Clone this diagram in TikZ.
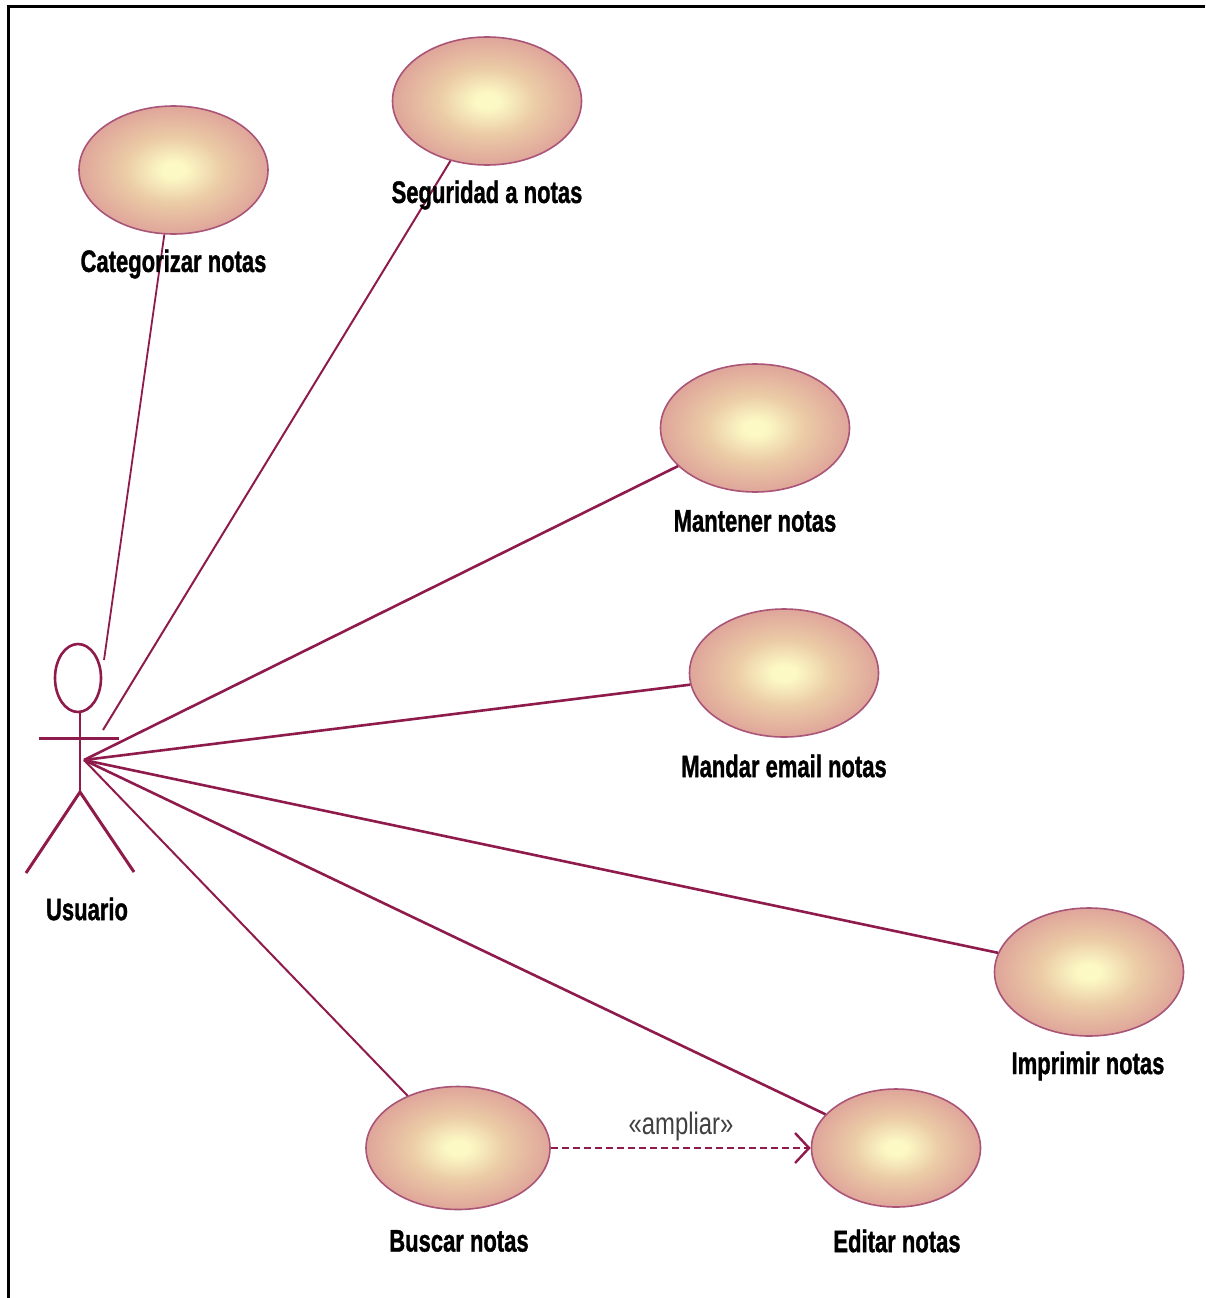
\documentclass[tikz,border=0pt]{standalone}
\usepackage{fontspec}
\setmainfont{Liberation Sans}[BoldFeatures={FakeBold=1.4}]
\usetikzlibrary{shapes.geometric,arrows.meta}
\definecolor{umlline}{HTML}{8E1B4B}
\definecolor{centrocaso}{HTML}{FCF9C4}
\definecolor{mediocaso}{HTML}{EBCBA6}
\definecolor{bordecaso}{HTML}{DFA59A}
\pgfdeclareradialshading{casouso}{\pgfpoint{0bp}{0bp}}{color(0bp)=(centrocaso); color(3bp)=(centrocaso); color(13bp)=(mediocaso); color(25bp)=(bordecaso); color(50bp)=(bordecaso)}
\tikzset{
    usecase/.style={ellipse, draw=umlline!75!white, line width=1.6pt, inner sep=0pt, shade, shading=casouso},
    etiqueta/.style={font=\fontsize{31}{34}\selectfont\bfseries, xscale=0.71, inner sep=0pt},
    relacion/.style={draw=umlline, line width=2.6pt}
}
\begin{document}
\begin{tikzpicture}[x=1pt, y=-1pt]
    \useasboundingbox (0,0) rectangle (1205,1298);

    % Marco
    \draw[line width=3pt] (8,1298) -- (8,7) -- (1205,7);

    % Casos de uso
    \node[usecase, minimum width=189pt, minimum height=128pt] (categorizar) at (173.5,170) {};
    \node[usecase, minimum width=189pt, minimum height=128pt] (seguridad) at (487,101) {};
    \node[usecase, minimum width=189pt, minimum height=128pt] (mantener) at (755,428) {};
    \node[usecase, minimum width=189pt, minimum height=128pt] (mandar) at (784,673) {};
    \node[usecase, minimum width=189pt, minimum height=128pt] (imprimir) at (1089,972) {};
    \node[usecase, minimum width=184pt, minimum height=123pt] (buscar) at (458,1148) {};
    \node[usecase, minimum width=169pt, minimum height=118pt] (editar) at (896,1148) {};

    % Actor
    \draw[relacion] (78,678) ellipse (23 and 34);
    \draw[relacion] (80,712) -- (80,792);
    \draw[relacion, line width=3pt] (39,738) -- (119,738);
    \draw[relacion, line width=3pt] (26,873) -- (80,792) -- (134,872);

    % Extremos libres de las relaciones
    \coordinate (cabeza) at (104,660);
    \coordinate (brazo) at (103,730);
    \coordinate (usuario) at (84,760);

    % Relaciones
    \draw[relacion, line width=1.8pt] (cabeza) -- (categorizar);
    \draw[relacion, line width=2pt] (brazo) -- (seguridad);
    \draw[relacion] (usuario) -- (mantener);
    \draw[relacion] (usuario) -- (mandar);
    \draw[relacion] (usuario) -- (imprimir);
    \draw[relacion] (usuario) -- (editar);
    \draw[relacion, line width=2pt] (usuario) -- (buscar);

    % Ampliar
    \draw[relacion, line width=2.4pt, dash pattern=on 7pt off 4pt, -{Straight Barb[length=14pt, width=30pt]}] (buscar) -- (editar);
    \node[font=\fontsize{31}{34}\selectfont, xscale=0.77, inner sep=0pt, text=black!75] (ampliar) at (681,1126) {«ampliar»};

    % Etiquetas
    \node[etiqueta] (lblcategorizar) at (173.5,264) {Categorizar notas};
    \node[etiqueta] (lblseguridad) at (487,195) {Seguridad a notas};
    \node[etiqueta] (lblmantener) at (755,521) {Mantener notas};
    \node[etiqueta] (lblmandar) at (784,766) {Mandar email notas};
    \node[etiqueta] (lblimprimir) at (1088,1066) {Imprimir notas};
    \node[etiqueta] (lblbuscar) at (459,1241) {Buscar notas};
    \node[etiqueta] (lbleditar) at (897,1241) {Editar notas};
    \node[etiqueta] (lblusuario) at (87,909) {Usuario};
\end{tikzpicture}
\end{document}
